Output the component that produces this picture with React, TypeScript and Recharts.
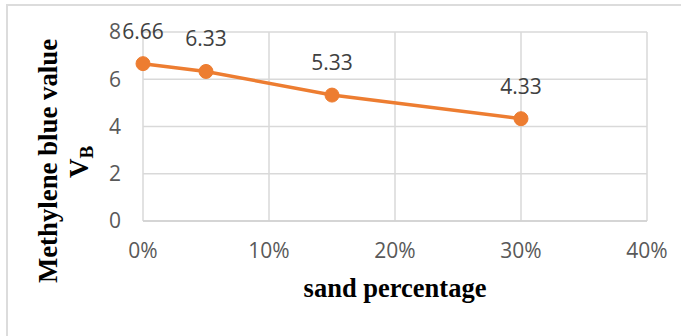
import React from "react";
import { LineChart, Line, XAxis, YAxis, CartesianGrid, LabelList } from "recharts";

// Sand content (%) and the measured methylene blue value V_B
const sandPercent = [0, 5, 15, 30];
const vbValues = [6.66, 6.33, 5.33, 4.33];
const xTicks = [0, 10, 20, 30, 40];
const yTicks = [0, 2, 4, 6, 8];

const data = sandPercent.map((s, i) => ({ sand: s, vb: vbValues[i] }));

const tickFont = { fontFamily: "'Open Sans', sans-serif", fontSize: 21, fill: "#595959" };
const titleFont = "'Liberation Serif', 'Times New Roman', serif";

const XTitle = () => (
  <text
    x={395}
    y={297}
    textAnchor="middle"
    fontFamily={titleFont}
    fontWeight="bold"
    fontSize={26.5}
    fill="#000"
  >
    sand percentage
  </text>
);

const YTitle = () => (
  <g fontFamily={titleFont} fontWeight="bold" fill="#000">
    <text transform="translate(57,161) rotate(-90)" textAnchor="middle" fontSize={26.8}>
      Methylene blue value
    </text>
    <text transform="translate(88,162) rotate(-90)" textAnchor="middle" fontSize={27}>
      <tspan>V</tspan>
      <tspan fontSize={19} dy={5}>B</tspan>
    </text>
  </g>
);

export default function App() {
  return (
    <div style={{ position: "absolute", left: 0, top: 0, width: 681, height: 336, background: "#fff" }}>
      <div
        style={{
          position: "absolute",
          left: 6,
          top: 4,
          width: 700,
          height: 360,
          borderLeft: "2px solid #DCDCDC",
          borderTop: "2px solid #DCDCDC",
        }}
      />
      <div style={{ position: "absolute", left: 0, top: 0 }}>
        <LineChart width={681} height={336} data={data} margin={{ top: 32, right: 34, left: 0, bottom: 0 }}>
          <CartesianGrid stroke="#D9D9D9" strokeWidth={1.5} />
          <XAxis
            type="number"
            dataKey="sand"
            domain={[0, 40]}
            ticks={xTicks}
            tickFormatter={(v: number) => `${v}%`}
            height={115}
            tickLine={false}
            tickMargin={16}
            axisLine={{ stroke: "#D0D0D0", strokeWidth: 1.5 }}
            tick={tickFont}
            interval={0}
            label={{ content: () => <XTitle /> }}
          />
          <YAxis
            type="number"
            domain={[0, 8]}
            ticks={yTicks}
            width={143}
            axisLine={false}
            tickLine={false}
            tickMargin={16}
            tick={tickFont}
            interval={0}
            label={{ content: () => <YTitle /> }}
          />
          <Line
            type="linear"
            dataKey="vb"
            stroke="#ED7D31"
            strokeWidth={3.5}
            dot={{ r: 7, fill: "#ED7D31", stroke: "#ED7D31", strokeWidth: 1 }}
            isAnimationActive={false}
          >
            <LabelList
              dataKey="vb"
              position="top"
              offset={25}
              style={{ fontFamily: "'Open Sans', sans-serif", fontSize: 21, fill: "#404040" }}
            />
          </Line>
        </LineChart>
      </div>
    </div>
  );
}
